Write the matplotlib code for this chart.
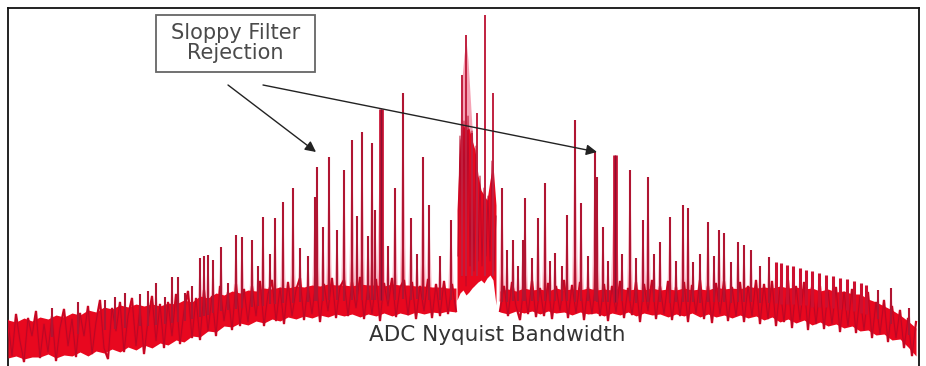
import numpy as np
import matplotlib
matplotlib.use("Agg")
import matplotlib.pyplot as plt
from matplotlib.patches import Rectangle

# ---------------- data (frequency position, level) ----------------
# noise floor body: upper and lower edge of the dense floor
noise_left_x = [8, 16, 24, 32, 40, 48, 56, 64, 72, 80, 88, 96, 104, 112, 120, 128,
                136, 144, 152, 160, 168, 176, 184, 192, 200, 208, 216, 224, 232, 240,
                248, 256, 264, 272, 280, 288, 296, 304, 312, 320, 328, 336, 344, 352,
                360, 368, 376, 384, 392, 400, 408, 416, 424, 432, 440, 448, 456]
noise_left_hi = [46, 44, 48, 45, 49, 47, 51, 49, 53, 51, 56, 54, 59, 57, 61, 59,
                 62, 60, 62, 60, 63, 62, 66, 64, 70, 68, 73, 71, 75, 73,
                 76, 75, 78, 77, 79, 78, 80, 79, 81, 80, 82, 81, 81, 80,
                 82, 81, 81, 80, 82, 81, 81, 80, 80, 79, 79, 78, 78]
noise_left_lo = [8, 10, 7, 9, 9, 12, 8, 11, 10, 14, 10, 15, 13, 17, 14, 19,
                 16, 21, 18, 23, 21, 26, 24, 30, 29, 35, 34, 40, 39, 43,
                 41, 45, 43, 47, 45, 49, 47, 50, 48, 51, 49, 52, 50, 52,
                 49, 52, 50, 53, 50, 53, 51, 54, 52, 54, 53, 55, 54]

noise_right_x = [500, 508, 516, 524, 532, 540, 548, 556, 564, 572, 580, 588, 596,
                 604, 612, 620, 628, 636, 644, 652, 660, 668, 676, 684, 692, 700,
                 708, 716, 724, 732, 740, 748, 756, 764, 772, 780, 788, 796, 804,
                 812, 820, 828, 836, 844, 852, 860, 868, 876, 884, 892, 900, 908, 916]
noise_right_hi = [75, 77, 75, 78, 76, 77, 75, 78, 76, 77, 76, 78, 76,
                  77, 76, 78, 76, 77, 76, 78, 76, 77, 76, 78, 76, 77,
                  76, 79, 77, 78, 77, 80, 78, 79, 78, 80, 78, 79, 77,
                  78, 75, 77, 74, 75, 72, 72, 67, 64, 60, 56, 51, 45, 38]
noise_right_lo = [54, 52, 55, 53, 55, 52, 55, 53, 54, 51, 54, 52, 53,
                  50, 53, 51, 54, 50, 53, 51, 52, 49, 52, 50, 53, 49,
                  52, 49, 51, 48, 51, 48, 50, 46, 49, 44, 47, 43, 46,
                  41, 44, 40, 42, 38, 40, 35, 36, 31, 32, 26, 27, 19, 10]

# noise trace (ragged edge of the floor), one value every 4 bins
trace_left_x0, trace_left_step = 8, 4
trace_left = [45, 10, 52, 25, 4, 48, 30, 55, 8, 42,
              14, 50, 5, 38, 57, 20, 47, 9, 53, 30,
              60, 12, 44, 66, 18, 7, 58, 35, 64, 14,
              50, 68, 20, 59, 12, 45, 70, 25, 62, 18,
              64, 30, 72, 22, 55, 75, 28, 68, 26, 76,
              35, 70, 30, 80, 45, 74, 36, 82, 40, 77,
              44, 80, 50, 85, 40, 72, 86, 45, 78, 42,
              84, 50, 76, 88, 46, 80, 52, 87, 44, 82,
              55, 88, 48, 79, 86, 50, 84, 58, 89, 47,
              80, 52, 87, 45, 83, 60, 88, 49, 78, 86,
              51, 84, 47, 80, 55, 87, 48, 82, 50, 85,
              52, 82, 55]
trace_right_x0, trace_right_step = 500, 4
trace_right = [55, 80, 50, 84, 60, 46, 82, 52, 85, 49,
               78, 50, 83, 47, 80, 55, 86, 48, 81, 53,
               84, 46, 79, 52, 86, 50, 82, 45, 80, 54,
               85, 48, 78, 51, 84, 44, 82, 55, 86, 47,
               80, 52, 85, 46, 79, 50, 84, 44, 81, 53,
               86, 47, 80, 43, 83, 52, 85, 45, 79, 50,
               84, 44, 80, 50, 86, 42, 82, 47, 85, 40,
               78, 44, 86, 38, 80, 46, 84, 36, 79, 42,
               80, 37, 75, 42, 79, 34, 74, 40, 77, 33,
               70, 36, 74, 28, 64, 32, 66, 24, 60, 28,
               56, 18, 48, 10, 44]

# central signal cluster (inside the ADC band)
core_x  = [457, 460, 463, 466, 469, 472, 475, 478, 481, 484, 487, 490, 493, 496]
core_hi = [156, 226, 241, 236, 238, 226, 216, 191, 176, 171, 166, 186, 201, 161]
core_lo = [66, 73, 76, 71, 74, 78, 81, 84, 86, 83, 88, 91, 86, 61]
core_trace_x = [458, 460, 462, 464, 466, 468, 470, 472, 474, 476, 478, 480,
                482, 484, 486, 488, 490, 492, 494, 496]
core_trace = [110, 230, 90, 245, 80, 250, 100, 235, 95, 220, 105, 190,
              100, 178, 110, 170, 105, 205, 95, 150]
halo_x  = [458, 461, 464, 466, 468, 471, 474]
halo_hi = [136, 276, 311, 326, 306, 256, 206]
core_spike_x = [462, 466, 472, 477, 485, 493]
core_spike_y = [291, 331, 233, 253, 351, 273]

# discrete spurs / aliased tones
spur_x = [52, 78, 105, 115, 125, 140, 148, 156, 165, 172, 178, 185, 192, 200, 204,
          208, 213, 221, 228, 236, 242, 252, 258, 263, 270, 275, 283, 293, 300,
          308, 315, 317, 323, 329, 337, 344, 352, 357, 362, 368, 372, 375, 388,
          395, 403, 411, 417, 423, 429, 440, 451,
          502, 507, 513, 518, 523, 525, 532, 538, 545, 550, 555, 562, 567, 575,
          581, 588, 595, 597, 603, 608, 622, 630, 636, 643, 648, 654, 660, 670,
          676, 683, 688, 693, 700, 708, 714, 719, 724, 731, 738, 744, 751, 760,
          769, 878, 891, 909]
spur_y = [58, 64, 66, 69, 73, 72, 75, 83, 69, 89, 89, 73, 80, 108, 110,
          111, 106, 119, 83, 131, 129, 126, 100, 149, 112, 148, 164, 178, 118,
          110, 169, 199, 139, 209, 136, 196, 226, 150, 234, 130, 223, 156, 120,
          178, 273, 148, 112, 209, 161, 110, 146,
          178, 116, 126, 100, 126, 168, 108, 148, 183, 105, 113, 100, 151, 246,
          163, 110, 214, 189, 139, 105, 112, 196, 108, 146, 189, 112, 124, 149,
          105, 161, 158, 104, 112, 144, 110, 136, 133, 104, 124, 121, 116, 100,
          109, 76, 78, 58]
# strong (wide) spurs
wide_x = [381, 615]
wide_y = [257, 211]
# comb of closely spaced spurs near the upper band edge
comb_x = [776, 781, 787, 793, 800, 806, 812, 819, 826, 833, 840, 847, 854, 861, 866]
comb_y = [104, 103, 101, 100, 98, 96, 95, 93, 91, 90, 88, 87, 85, 83, 81]

# ---------------- figure ----------------
W, H = 926, 366
fig = plt.figure(figsize=(W / 100, H / 100), dpi=100)
ax = fig.add_axes([8 / W, 0, (919 - 8) / W, 358 / H])
ax.set_xlim(8, 919)
ax.set_ylim(0, 358)
ax.set_xticks([])
ax.set_yticks([])
for s in ("left", "top", "right"):
    ax.spines[s].set_linewidth(1.3)
    ax.spines[s].set_color("#111111")
ax.spines["bottom"].set_visible(False)

RED = "#e8081f"
DARK = "#b01532"
PINK = "#f27d96"

all_nx = np.array(noise_left_x + noise_right_x, dtype=float)
all_nlo = np.array(noise_left_lo + noise_right_lo, dtype=float)
all_nhi = np.array(noise_left_hi + noise_right_hi, dtype=float)

def base_level(xs):
    xs = np.asarray(xs, dtype=float)
    return np.interp(xs, all_nx, (all_nlo + all_nhi) / 2)

# spur skirts (pink) and lines
for xs, ys, hw in ((spur_x, spur_y, 3.2), (comb_x, comb_y, 2.8), (wide_x, wide_y, 4.5)):
    xs = np.asarray(xs, float)
    ys = np.asarray(ys, float)
    b = base_level(xs)
    for x0, y0, b0 in zip(xs, ys, b):
        ax.fill([x0 - hw, x0, x0 + hw], [b0, y0, b0], color=PINK, alpha=0.5,
                lw=0, zorder=2)
        mid = b0 + 0.45 * (y0 - b0)
        ax.fill([x0 - hw * 0.7, x0, x0 + hw * 0.7], [b0, mid, b0], color=RED,
                alpha=0.55, lw=0, zorder=2.5)
ax.vlines(spur_x, base_level(spur_x), spur_y, color=DARK, lw=1.5, zorder=4)
ax.vlines(comb_x, base_level(comb_x), comb_y, color="#cc1030", lw=2.2, zorder=4)
ax.vlines(wide_x, base_level(wide_x), wide_y, color="#c80f30", lw=3.4, zorder=4)
ax.vlines(wide_x, base_level(wide_x), wide_y, color="#8e1030", lw=1.0, zorder=5)

# noise floor body + ragged trace
for nx, nhi, nlo in ((noise_left_x, noise_left_hi, noise_left_lo),
                     (noise_right_x, noise_right_hi, noise_right_lo)):
    ax.fill_between(nx, nlo, nhi, color=RED, lw=0, zorder=3)
for x0, step, tr in ((trace_left_x0, trace_left_step, trace_left),
                     (trace_right_x0, trace_right_step, trace_right)):
    tx = x0 + step * np.arange(len(tr))
    ax.plot(tx, tr, color="#e0061f", lw=1.6, zorder=3.4, solid_joinstyle="miter")
    ax.plot(tx, tr, color="#a80a2a", lw=0.6, alpha=0.8, zorder=3.5)

# central cluster
ax.fill_between(halo_x, 80, halo_hi, color=PINK, alpha=0.7, lw=0, zorder=2)
ax.fill_between(core_x, core_lo, core_hi, color=RED, lw=0, zorder=3)
ax.plot(core_trace_x, core_trace, color="#b80a2a", lw=0.7, zorder=3.5)
ax.vlines(core_spike_x, 90, core_spike_y, color="#c0203f", lw=1.4, zorder=4)

# annotation box and arrows
ax.add_patch(Rectangle((156, 294), 159, 57, fill=False, ec="#666666", lw=1.3,
                       zorder=6))
ax.text(235.5, 323, "Sloppy Filter\nRejection", ha="center", va="center",
        fontsize=15, color="#4a4a4a", linespacing=0.95, zorder=7,
        family="DejaVu Sans")
arrow = dict(arrowstyle="-|>", color="#222222", lw=1.0, mutation_scale=16,
             shrinkA=0, shrinkB=0)
ax.annotate("", xy=(316, 214), xytext=(228, 281), arrowprops=arrow, zorder=8)
ax.annotate("", xy=(597, 214), xytext=(263, 281), arrowprops=arrow, zorder=8)

ax.text(497, 25, "ADC Nyquist Bandwidth", ha="center", va="baseline",
        fontsize=15.5, color="#333333", zorder=7, family="DejaVu Sans")

fig.savefig("out.png", dpi=100)
